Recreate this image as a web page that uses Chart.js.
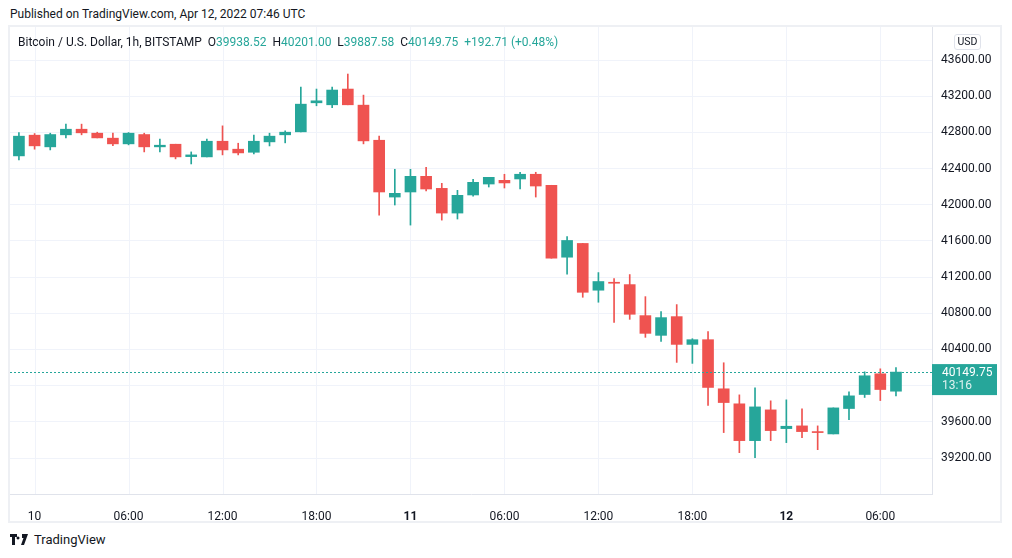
<!DOCTYPE html>
<html>
<head>
<meta charset="utf-8">
<script src="https://cdn.jsdelivr.net/npm/chart.js@4.4.1/dist/chart.umd.min.js"></script>
<style>
  html, body { margin: 0; padding: 0; background: #fff; }
  body { width: 1012px; height: 558px; position: relative; overflow: hidden;
         font-family: Roboto, "Noto Sans", sans-serif; color: #131722; }
  #pub { position: absolute; left: 10px; top: 7px; font-size: 12px; }
  #frame { position: absolute; left: 8px; top: 25px; width: 990px; height: 494px;
           border: 2px solid #eef0f4; }
  #wrap { position: absolute; left: 0; top: 0; width: 990px; height: 494px; }
  #legend { position: absolute; left: 18px; top: 35px; font-size: 12px; white-space: pre; z-index: 2; }
  #legend .v { color: #26a69a; }
  #usd { position: absolute; left: 954px; top: 34px; width: 25px; height: 14px; border: 1px solid #e0e3eb;
         border-radius: 3px; font-size: 10.5px; text-align: center; line-height: 14px; background: #fff; z-index: 2; }
  #footer { position: absolute; left: 10px; top: 532px; font-size: 13px; display: flex; align-items: center; }
  #footer svg { margin-right: 6px; }
</style>
</head>
<body>
<div id="pub">Published on TradingView.com, Apr 12, 2022 07:46 UTC</div>
<div id="frame"><div id="wrap"><canvas id="chart"></canvas></div></div>
<div id="legend">Bitcoin / U.S. Dollar, 1h, BITSTAMP  O<span class="v">39938.52</span>  H<span class="v">40201.00</span>  L<span class="v">39887.58</span>  C<span class="v">40149.75</span>  <span class="v">+192.71 (+0.48%)</span></div>
<div id="usd">USD</div>
<div id="footer">
  <svg width="18" height="11" viewBox="0 0 18 11"><path d="M0 0h7v3H5v8H2V3H0z M8 2.5a1.5 1.5 0 1 0 0.01 0z M12 0h6l-4 11h-3l2.5-7H12z" fill="#131722"/></svg>
  <span>TradingView</span>
</div>
<script>
// hourly candles, 09 Apr 23:00 -> 12 Apr 07:00 (UTC)
const opens = [
  42540, 42769, 42640, 42773, 42835, 42791, 42736, 42673, 42776, 42640,
  42669, 42532, 42529, 42702, 42614, 42580, 42695, 42773, 42806, 43127,
  43105, 43279, 43101, 42713, 42085, 42141, 42314, 42181, 41908, 42108,
  42229, 42270, 42285, 42337, 42215, 41420, 41572, 41055, 41140, 41117,
  40774, 40556, 40763, 40456, 40508, 39965, 39799, 39392, 39732, 39525,
  39555, 39488, 39466, 39747, 39902, 40131, 39938.52];
const highs = [
  42798, 42787, 42791, 42891, 42891, 42802, 42791, 42798, 42791, 42725,
  42669, 42584, 42725, 42872, 42680, 42769, 42791, 42817, 43301, 43279,
  43301, 43445, 43212, 42758, 42392, 42392, 42414, 42237, 42159, 42281,
  42303, 42337, 42359, 42359, 42215, 41649, 41572, 41250, 41184, 41228,
  40984, 40818, 40896, 40519, 40597, 40253, 39898, 39976, 39832, 39843,
  39743, 39555, 39754, 39932, 40153, 40186, 40201];
const lows = [
  42495, 42614, 42606, 42740, 42773, 42739, 42654, 42662, 42584, 42584,
  42507, 42451, 42529, 42551, 42551, 42562, 42650, 42684, 42806, 43094,
  43072, 43105, 42673, 41886, 41997, 41775, 42152, 41830, 41842, 42096,
  42196, 42185, 42174, 42085, 41409, 41232, 40977, 40922, 40700, 40733,
  40534, 40489, 40257, 40246, 39780, 39481, 39259, 39204, 39392, 39370,
  39425, 39292, 39466, 39625, 39869, 39835, 39887.58];
const closes = [
  42758, 42651, 42776, 42835, 42795, 42739, 42673, 42791, 42640, 42658,
  42529, 42551, 42702, 42606, 42573, 42702, 42758, 42802, 43112, 43149,
  43268, 43105, 42706, 42141, 42126, 42314, 42174, 41908, 42104, 42248,
  42303, 42241, 42337, 42207, 41409, 41605, 41032, 41151, 41132, 40789,
  40578, 40752, 40456, 40508, 39980, 39813, 39392, 39765, 39503, 39551,
  39492, 39481, 39754, 39887, 40109, 39957.04, 40149.75];

// time axis labels (candle index -> label)
const tickIdx = [1, 7, 13, 19, 25, 31, 37, 43, 49, 55];
const tickText = ['10', '06:00', '12:00', '18:00', '11', '06:00', '12:00', '18:00', '12', '06:00'];
const dayLabels = ['11', '12'];
const priceTicks = [39200, 39600, 40000, 40400, 40800, 41200, 41600, 42000, 42400, 42800, 43200, 43600];
const lastPrice = 40149.75;
const countdown = '13:16';

const UP = '#26a69a';
const DOWN = '#ef5350';
const GRID = '#f0f3fa';
const colors = opens.map((o, i) => closes[i] >= o ? UP : DOWN);

// vertical grid only at the time labels
const timeGridPlugin = {
  id: 'timeGrid',
  beforeDatasetsDraw(chart) {
    const { ctx, chartArea, scales } = chart;
    ctx.save();
    ctx.strokeStyle = GRID;
    ctx.lineWidth = 1;
    tickIdx.forEach(v => {
      const x = Math.round(scales.x.getPixelForValue(v)) + 0.5;
      ctx.beginPath();
      ctx.moveTo(x, chartArea.top);
      ctx.lineTo(x, chartArea.bottom);
      ctx.stroke();
    });
    ctx.restore();
  }
};

// --- dotted last price line + price tag on the axis ---
const lastPricePlugin = {
  id: 'lastPrice',
  afterDatasetsDraw(chart) {
    const { ctx, chartArea } = chart;
    const y = Math.round(chart.scales.y.getPixelForValue(lastPrice)) + 0.5;
    ctx.save();
    ctx.strokeStyle = UP;
    ctx.lineWidth = 1;
    ctx.setLineDash([2, 2]);
    ctx.beginPath();
    ctx.moveTo(chartArea.left, y);
    ctx.lineTo(chartArea.right, y);
    ctx.stroke();
    ctx.restore();
  },
  afterDraw(chart) {
    const { ctx, chartArea } = chart;
    const y = chart.scales.y.getPixelForValue(lastPrice);
    ctx.save();
    ctx.fillStyle = UP;
    ctx.fillRect(chartArea.right, y - 8, 65, 31);
    ctx.fillStyle = '#fff';
    ctx.font = '12px Roboto';
    ctx.textBaseline = 'middle';
    ctx.fillText(lastPrice.toFixed(2), chartArea.right + 10, y + 1);
    ctx.fillStyle = 'rgba(255,255,255,0.85)';
    ctx.fillText(countdown, chartArea.right + 10, y + 14);
    ctx.restore();
  }
};

// no label padding around the plot, the ranges are set by hand
function noPad(scale) {
  scale.paddingTop = 0;
  scale.paddingBottom = 0;
  scale.paddingLeft = 0;
  scale.paddingRight = 0;
}

Chart.defaults.font.family = 'Roboto';
Chart.defaults.font.size = 12;
Chart.defaults.color = '#131722';

new Chart(document.getElementById('chart'), {
  type: 'bar',
  data: {
    datasets: [
      {
        label: 'body',
        data: opens.map((o, i) => ({ x: i, y: [o, closes[i]] })),
        backgroundColor: colors,
        barThickness: 11,
        minBarLength: 1,
        grouped: false,
        borderWidth: 0,
        order: 1
      },
      {
        label: 'wick',
        data: lows.map((l, i) => ({ x: i, y: [l, highs[i]] })),
        backgroundColor: colors,
        barThickness: 1,
        grouped: false,
        borderWidth: 0,
        order: 2
      }
    ]
  },
  options: {
    responsive: true,
    maintainAspectRatio: false,
    animation: false,
    layout: { padding: 0, autoPadding: false },
    plugins: { legend: { display: false }, tooltip: { enabled: false } },
    scales: {
      x: {
        type: 'linear',
        offset: false,
        min: -0.57,
        max: 58.3,
        afterBuildTicks: (scale) => { scale.ticks = tickIdx.map(v => ({ value: v })); },
        afterFit: (scale) => { scale.height = 27; noPad(scale); },
        grid: { display: false },
        border: { display: true, color: '#e0e3eb' },
        ticks: {
          autoSkip: false,
          maxRotation: 0,
          padding: 8,
          callback: (v, i) => tickText[i],
          font: (c) => ({ family: 'Roboto', size: 12, weight: dayLabels.includes(tickText[c.index]) ? 'bold' : 'normal' })
        }
      },
      y: {
        position: 'right',
        min: 38802,
        max: 43965,
        afterBuildTicks: (scale) => { scale.ticks = priceTicks.map(v => ({ value: v })); },
        afterFit: (scale) => { scale.width = 68; noPad(scale); },
        grid: { color: GRID, drawTicks: false, offset: false },
        border: { color: '#e0e3eb' },
        ticks: {
          padding: 9,
          callback: (v) => v === 40000 ? '' : v.toFixed(2)
        }
      }
    }
  },
  plugins: [timeGridPlugin, lastPricePlugin]
});
</script>
</body>
</html>
